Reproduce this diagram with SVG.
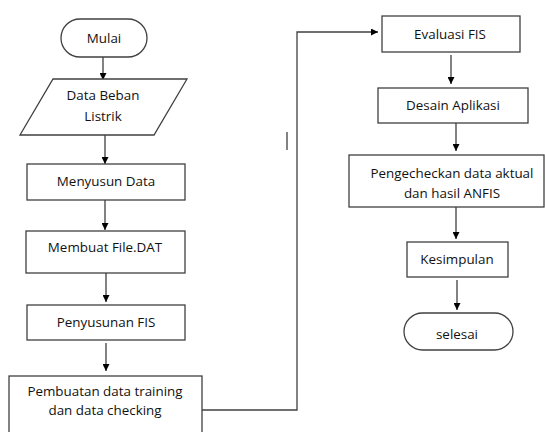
<svg xmlns="http://www.w3.org/2000/svg" width="545" height="432" viewBox="0 0 545 432">
<defs>
<marker id="ah" viewBox="0 0 10 10" refX="10" refY="5" markerWidth="8" markerHeight="7" markerUnits="userSpaceOnUse" orient="auto">
<path d="M0,0 L10,5 L0,10 z" fill="#000"/>
</marker>
<style>
.s{fill:#fff;stroke:#404040;stroke-width:1.3}
.t{font-family:"Open Sans","Noto Sans",sans-serif;font-size:13.4px;fill:#111;text-anchor:middle}
.c{fill:none;stroke:#404040;stroke-width:1.3}
</style>
</defs>
<rect width="545" height="432" fill="#fff"/>
<g id="connectors">
<line class="c" x1="103" y1="57" x2="103" y2="80" marker-end="url(#ah)"/>
<line class="c" x1="105" y1="135" x2="105" y2="164" marker-end="url(#ah)"/>
<line class="c" x1="105" y1="200" x2="105" y2="230" marker-end="url(#ah)"/>
<line class="c" x1="106" y1="273" x2="106" y2="302" marker-end="url(#ah)"/>
<line class="c" x1="106" y1="343" x2="106" y2="371" marker-end="url(#ah)"/>
<polyline class="c" points="202,410 297,410 297,32 378,32" marker-end="url(#ah)"/>
<line class="c" x1="451" y1="55" x2="451" y2="84" marker-end="url(#ah)"/>
<line class="c" x1="456" y1="123" x2="456" y2="151" marker-end="url(#ah)"/>
<line class="c" x1="456" y1="207" x2="456" y2="239" marker-end="url(#ah)"/>
<line class="c" x1="457" y1="280" x2="457" y2="310" marker-end="url(#ah)"/>
<line class="c" x1="287" y1="132" x2="287" y2="150"/>
</g>
<g id="mulai"><rect class="s" x="61" y="19" width="86" height="38" rx="19"/><text class="t" x="104" y="43">Mulai</text></g>
<g id="data-beban"><polygon class="s" points="53,79 187,79 154,135 20,135"/><text class="t" x="103" y="100">Data Beban</text><text class="t" x="103" y="121">Listrik</text></g>
<g id="menyusun"><rect class="s" x="27" y="164" width="158" height="36"/><text class="t" x="106" y="186">Menyusun Data</text></g>
<g id="membuat"><rect class="s" x="26" y="231" width="159" height="42"/><text class="t" x="105" y="252">Membuat File.DAT</text></g>
<g id="penyusunan"><rect class="s" x="27" y="305" width="158" height="35"/><text class="t" x="106" y="327">Penyusunan FIS</text></g>
<g id="pembuatan"><rect class="s" x="9" y="376" width="193" height="60"/><text class="t" x="105" y="396">Pembuatan data training</text><text class="t" x="105" y="415">dan data checking</text></g>
<g id="evaluasi"><rect class="s" x="382" y="16" width="138" height="36"/><text class="t" x="450" y="39">Evaluasi FIS</text></g>
<g id="desain"><rect class="s" x="378" y="88" width="150" height="35"/><text class="t" x="453" y="110">Desain Aplikasi</text></g>
<g id="pengecheckan"><rect class="s" x="349" y="155" width="195" height="52"/><text class="t" x="452" y="178">Pengecheckan data aktual</text><text class="t" x="452" y="198">dan hasil ANFIS</text></g>
<g id="kesimpulan"><rect class="s" x="407" y="242" width="101" height="35"/><text class="t" x="457" y="264">Kesimpulan</text></g>
<g id="selesai"><rect class="s" x="404" y="313" width="109" height="37" rx="18.5"/><text class="t" x="457" y="339">selesai</text></g>
</svg>
